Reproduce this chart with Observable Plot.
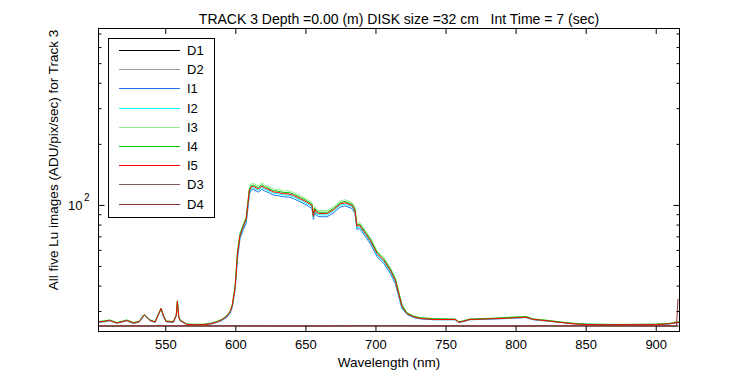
<!DOCTYPE html>
<html><head><meta charset="utf-8">
<script src="https://cdn.jsdelivr.net/npm/d3@7"></script>
<script src="https://cdn.jsdelivr.net/npm/@observablehq/plot@0.6"></script>
<style>
body{margin:0;background:#fff;font-family:"Liberation Sans",Arial,sans-serif;}
#wrap{position:relative;width:750px;height:375px;}
#legend{position:absolute;left:0;top:0;pointer-events:none;}
</style></head><body><div id="wrap"></div>
<script>
const wavelengths = [502,506,510,515,519,522,527,531,534.7,538.8,542.4,546.6,548.5,550.2,555.4,557.5,558.3,559.2,560.2,565,570,577,582,586.4,590,593.6,596,597.5,
599.5,601.2,603,605.4,607.4,608.5,609.7,611,612.6,614.5,616.1,618.6,620.5,622.1,626.9,630,634,638,641.1,646,650.7,654.3,655.4,656.2,657.4,659,665,669.7,674.5,678,682.9,685,686.4,688.3,692.4,695.9,700.7,705.5,710.2,713.8,716.1,718.6,
722.1,726.9,731.6,741.5,756.5,759.2,762,767,782,794,807,812.4,822,831.6,840,850.6,870,899.5,910,913.4,916.5];

const I1 = [26.5,26.7,27.0,26.3,26.6,27.0,26.2,26.6,28.7,27.0,26.5,30.7,28.2,26.7,26.5,28.5,33.2,28.2,27.0,25.9,25.8,25.9,26.0,26.5,27.1,28.1,29.5,31.5,
38.6,54.5,68.5,76.0,82.0,95.0,113.5,119.1,119.8,117.7,116.4,120.1,117.7,116.7,112.4,111.8,110.2,109.9,108.1,104.1,100.2,96.5,85.2,92.3,89.5,88.1,87.8,91.9,98.1,99.5,96.5,91.2,76.0,76.9,70.3,64.8,56.0,51.7,46.2,41.2,35.8,31.0,
29.0,28.0,27.6,27.3,27.3,26.5,26.7,27.3,27.5,27.7,28.0,27.3,26.9,26.5,26.1,25.9,25.8,25.9,26.1,26.3,26.4];
const I2 = [26.6,26.8,27.1,26.4,26.7,27.1,26.3,26.7,28.8,27.1,26.6,30.9,28.4,26.8,26.6,28.6,33.5,28.3,27.1,25.9,25.8,25.9,26.1,26.6,27.2,28.3,29.8,32.0,
38.9,56.9,70.0,77.6,84.0,98.5,116.8,121.5,122.2,120.2,118.8,122.6,120.2,119.1,114.8,114.2,112.5,112.2,110.3,106.3,102.2,98.5,87.0,94.2,91.3,89.9,89.6,93.8,100.2,101.6,98.5,93.1,77.6,78.5,71.7,66.2,57.1,52.8,47.2,42.1,36.3,31.1,
29.2,28.1,27.7,27.5,27.4,26.6,26.8,27.4,27.6,27.8,28.1,27.4,27.0,26.6,26.2,26.0,25.9,25.9,26.1,26.4,26.5];
const I3 = [26.8,27.0,27.3,26.5,26.9,27.3,26.5,26.9,29.1,27.3,26.8,31.2,28.6,27.0,26.8,28.9,33.9,28.6,27.3,26.0,26.0,26.0,26.3,26.8,27.5,28.6,30.3,32.6,
40.2,59.5,73.4,81.4,88.2,103.3,122.8,127.7,128.4,126.3,124.8,128.9,126.3,125.1,120.6,120.0,118.2,117.9,115.9,111.7,107.4,103.5,91.4,98.9,95.9,94.5,94.2,98.5,105.3,106.7,103.5,97.8,81.6,82.5,75.3,69.6,60.0,55.5,49.6,44.2,38.2,32.6,
29.6,28.5,28.0,27.7,27.6,26.7,27.0,27.6,27.8,28.1,28.4,27.6,27.2,26.7,26.3,26.0,25.9,26.0,26.3,26.6,26.7];
const I4 = [26.7,26.9,27.2,26.4,26.8,27.2,26.4,26.8,29.0,27.2,26.7,31.1,28.5,26.9,26.7,28.8,33.8,28.5,27.2,26.0,25.9,25.9,26.2,26.7,27.4,28.5,30.1,32.4,
40.0,58.7,72.2,80.0,86.6,101.5,120.4,125.3,126.0,123.8,122.4,126.4,123.8,122.7,118.2,117.6,115.9,115.6,113.7,109.5,105.4,101.5,89.6,97.0,94.1,92.7,92.4,96.6,103.2,104.6,101.5,95.9,80.0,80.9,73.9,68.2,58.9,54.4,48.6,43.3,37.5,32.1,
29.5,28.4,27.9,27.6,27.5,26.6,26.9,27.5,27.7,28.0,28.3,27.5,27.1,26.6,26.2,25.95,25.85,25.95,26.2,26.5,26.6];
const I5 = [26.6,26.8,27.1,26.3,26.7,27.1,26.3,26.7,28.9,27.1,26.6,31.0,28.4,26.8,26.6,28.7,33.7,28.4,27.1,25.9,25.8,25.85,26.1,26.6,27.3,28.4,30.0,32.2,
39.5,57.8,71.1,78.8,85.3,100.0,118.6,123.4,124.1,122.0,120.6,124.5,122.0,120.9,116.5,115.9,114.2,113.9,112.0,107.9,103.8,100.0,88.3,95.6,92.7,91.3,91.0,95.2,101.7,103.1,100.0,94.5,78.8,79.7,72.8,67.2,58.0,53.6,47.9,42.7,36.9,31.6,
29.3,28.2,27.7,27.4,27.4,26.5,26.8,27.4,27.6,27.8,28.1,27.4,27.0,26.5,26.1,25.85,25.8,25.85,26.1,26.4,26.5];

const darkWavelengths = [502,550,600,650,700,750,800,850,900,914.5,915.5];
const D1 = [25.4,25.4,25.45,25.4,25.45,25.4,25.4,25.45,25.4,25.4,25.4];
const D2 = [25.5,25.45,25.5,25.5,25.45,25.5,25.5,25.45,25.5,25.5,25.5];
const D3 = [25.5,25.5,25.45,25.5,25.5,25.45,25.5,25.5,25.45,25.5,25.5];
const D4 = [25.45,25.5,25.5,25.45,25.5,25.5,25.45,25.5,25.5,25.5,34.5];

const seriesNames = ["D1","D2","I1","I2","I3","I4","I5","D3","D4"];
const seriesColors = ["#000000","#9a9a9a","#1e78e6","#00ffff","#90ee90","#00c800","#ff0000","#825a5a","#8b3030"];
const xTicks = [550,600,650,700,750,800,850,900];
const yMajorTicks = [100];
const yMinorTicks = [30,40,50,60,70,80,90,200,300,400,500,600,700];
const titleText = "TRACK 3 Depth =0.00 (m) DISK size =32 cm\u00a0\u00a0\u00a0Int Time = 7 (sec)";
const xLabel = "Wavelength (nm)";
const yLabel = "All five Lu images (ADU/pix/sec) for Track 3";

const seriesData = {D1, D2, I1, I2, I3, I4, I5, D3, D4};
const rows = [];
for (const name of seriesNames) {
  const xs = name.startsWith("D") ? darkWavelengths : wavelengths;
  seriesData[name].forEach((v, i) => rows.push({series: name, wl: xs[i], v}));
}

const font = "Liberation Sans, Arial, sans-serif";
const chart = Plot.plot({
  width: 750, height: 375,
  marginLeft: 98, marginRight: 71, marginTop: 28, marginBottom: 44,
  style: {fontFamily: font, fontSize: "13px", color: "#000", background: "#fff"},
  x: {domain: [502, 916.6], label: null},
  y: {type: "log", domain: [23.9, 745], label: null},
  color: {domain: seriesNames, range: seriesColors},
  marks: [
    Plot.line(rows, {x: "wl", y: "v", z: "series", stroke: "series", strokeWidth: 1}),
    Plot.frame({stroke: "#000", strokeWidth: 1}),
    Plot.axisX(xTicks, {anchor: "bottom", tickSize: -5, tickFormat: () => "", label: null}),
    Plot.axisX(xTicks, {anchor: "top", tickSize: -5, tickFormat: () => "", label: null}),
    Plot.axisX(xTicks, {anchor: "bottom", tickSize: 0, tickPadding: 8, fontSize: 13, label: null}),
    Plot.axisY(yMinorTicks, {anchor: "left", tickSize: -3.5, tickFormat: () => "", label: null}),
    Plot.axisY(yMinorTicks, {anchor: "right", tickSize: -3.5, tickFormat: () => "", label: null}),
    Plot.axisY(yMajorTicks, {anchor: "left", tickSize: -6.5, tickFormat: () => "", label: null}),
    Plot.axisY(yMajorTicks, {anchor: "right", tickSize: -6.5, tickFormat: () => "", label: null}),
    Plot.axisY(yMajorTicks, {anchor: "left", tickSize: 0, tickPadding: 16, fontSize: 13, tickFormat: () => "10", label: null}),
    Plot.text(yMajorTicks, {y: d => d, text: () => "2", frameAnchor: "left", textAnchor: "start", dx: -14.5, dy: -8, fontSize: 10}),
    Plot.text([titleText], {text: d => d, frameAnchor: "top", dx: 10, dy: -14.5, fontSize: 14}),
    Plot.text([xLabel], {text: d => d, frameAnchor: "bottom", dy: 35, fontSize: 13.5}),
    Plot.text([yLabel], {text: d => d, frameAnchor: "left", textAnchor: "middle", rotate: -90, dx: -45, dy: -20, fontSize: 13.5})
  ]
});
const wrap = document.getElementById("wrap");
wrap.appendChild(chart);

// legend overlay
const leg = d3.select(wrap).append("svg").attr("id", "legend")
  .attr("width", 750).attr("height", 375);
leg.append("rect").attr("x", 108.5).attr("y", 38.5).attr("width", 106).attr("height", 179)
  .attr("fill", "#fff").attr("stroke", "#000").attr("stroke-width", 1);
seriesNames.forEach((name, i) => {
  const y = Math.round(50 + i * 19.2) + 0.5;
  leg.append("line").attr("x1", 119).attr("x2", 180).attr("y1", y).attr("y2", y)
    .attr("stroke", seriesColors[i]).attr("stroke-width", 1);
  leg.append("text").attr("x", 187).attr("y", y).attr("dy", "0.36em")
    .attr("font-family", font).attr("font-size", 13).text(name);
});
</script></body></html>
